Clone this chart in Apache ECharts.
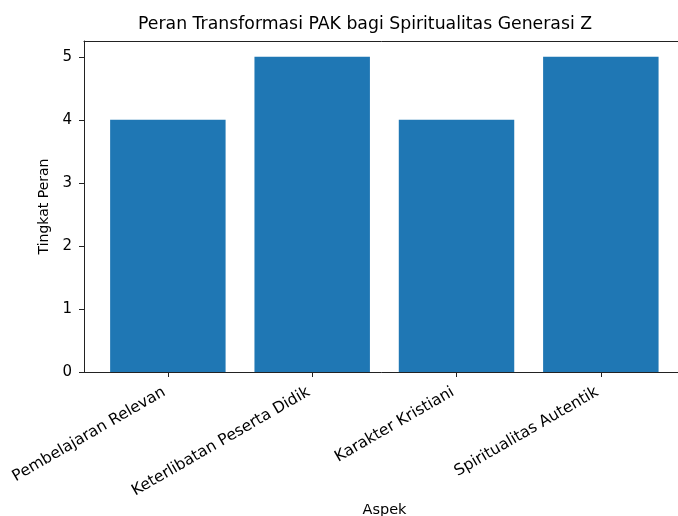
<!DOCTYPE html>
<html>
<head>
<meta charset="utf-8">
<script src="https://cdn.jsdelivr.net/npm/echarts@6/dist/echarts.min.js"></script>
<style>
html,body{margin:0;padding:0;background:#fff;}
#c{width:678px;height:516px;}
</style>
</head>
<body>
<div id="c"></div>
<script>
const categories = ["Pembelajaran Relevan", "Keterlibatan Peserta Didik", "Karakter Kristiani", "Spiritualitas Autentik"];
const values = [4, 5, 4, 5];
const yTicks = [0, 1, 2, 3, 4, 5];
const yMax = 5.25;

const FONT = "DejaVu Sans";
const chart = echarts.init(document.getElementById('c'), null, {renderer: 'canvas'});
const lineStyle = {color: '#222', width: 1};
chart.setOption({
  animation: false,
  backgroundColor: '#fff',
  title: {
    text: "Peran Transformasi PAK bagi Spiritualitas Generasi Z",
    left: 133, top: 11,
    textStyle: {fontFamily: FONT, fontSize: 17.3, fontWeight: 'normal', color: '#000'}
  },
  grid: [
    {left: 84, top: 41, width: 601, bottom: 144, containLabel: false, outerBoundsMode: 'none'},
    {left: 95.7, top: 41, width: 577.3, bottom: 144, containLabel: false, outerBoundsMode: 'none'}
  ],
  xAxis: [
    {gridIndex: 0, type: 'value', min: 0, max: 1, position: 'bottom',
     axisLine: {show: true, onZero: false, lineStyle: lineStyle}, axisTick: {show: false},
     axisLabel: {show: false}, splitLine: {show: false},
     name: 'Aspek', nameLocation: 'middle', nameGap: 131,
     nameTextStyle: {fontFamily: FONT, fontSize: 14.5, color: '#000'}},
    {gridIndex: 0, type: 'value', min: 0, max: 1, position: 'top',
     axisLine: {show: true, onZero: false, lineStyle: lineStyle}, axisTick: {show: false},
     axisLabel: {show: false}, splitLine: {show: false}},
    {gridIndex: 1, type: 'category', data: categories, position: 'bottom',
     boundaryGap: true,
     axisLine: {show: false, onZero: false},
     axisTick: {show: true, alignWithLabel: true, length: 5, lineStyle: lineStyle},
     axisLabel: {rotate: 30, margin: 17, padding: [0, 4, 0, 0],
       fontFamily: FONT, fontSize: 15.6, color: '#000', interval: 0},
     splitLine: {show: false}}
  ],
  yAxis: [
    {gridIndex: 0, type: 'value', min: 0, max: yMax,
     axisLine: {show: true, onZero: false, lineStyle: lineStyle},
     axisTick: {show: true, length: 5, lineStyle: lineStyle, customValues: yTicks},
     axisLabel: {margin: 12, fontFamily: FONT, fontSize: 15, color: '#000', customValues: yTicks},
     splitLine: {show: false},
     name: 'Tingkat Peran', nameLocation: 'middle', nameGap: 32,
     nameTextStyle: {fontFamily: FONT, fontSize: 14, color: '#000'}},
    {gridIndex: 1, type: 'value', min: 0, max: yMax, show: false}
  ],
  series: [{
    type: 'bar', xAxisIndex: 2, yAxisIndex: 1,
    data: values, barCategoryGap: '20%',
    itemStyle: {color: '#1f77b4'}
  }]
});
</script>
</body>
</html>
